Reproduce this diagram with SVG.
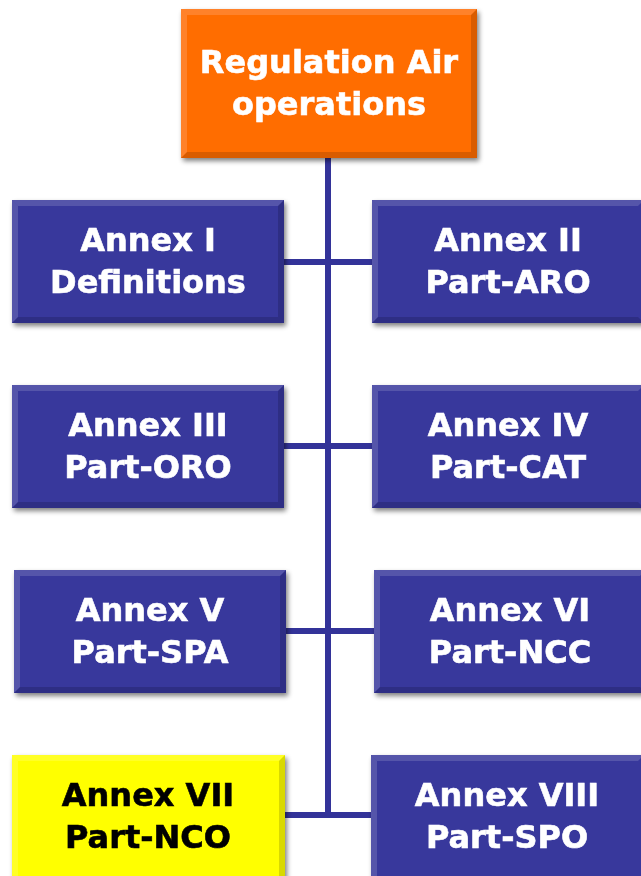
<svg xmlns="http://www.w3.org/2000/svg" width="641" height="876" viewBox="0 0 641 876">
<defs>
<filter id="sh" x="-10%" y="-10%" width="125%" height="130%">
<feGaussianBlur in="SourceAlpha" stdDeviation="2.5"/>
<feOffset dx="2" dy="3" result="b"/>
<feComponentTransfer><feFuncA type="linear" slope="0.5"/></feComponentTransfer>
<feMerge><feMergeNode/><feMergeNode in="SourceGraphic"/></feMerge>
</filter>
</defs>
<style>
.blue{fill:#37379c}
.orange{fill:#ff6d06}
.yellow{fill:#ffff00}
.lt{fill:#fff;opacity:0.15}
.dk{fill:#000;opacity:0.15}
.t{font-family:"DejaVu Sans",Verdana,sans-serif;font-weight:bold;font-size:32px;text-anchor:middle;fill:#fff;stroke:#fff;stroke-width:0.6}
.tb{fill:#000;stroke:#000}
.ln{stroke:#333399;stroke-width:6;fill:none}
</style>
<g id="connectors">
<line class="ln" x1="328" y1="158" x2="328" y2="818"/>
<line class="ln" x1="284" y1="262" x2="372" y2="262"/>
<line class="ln" x1="284" y1="446" x2="372" y2="446"/>
<line class="ln" x1="286" y1="631" x2="374" y2="631"/>
<line class="ln" x1="285" y1="815" x2="371" y2="815"/>
</g>
<g id="top" filter="url(#sh)">
<rect class="orange" x="181" y="9" width="296" height="149"/>
<polygon class="lt" points="181,9 477,9 471,15 187,15"/>
<polygon class="lt" points="181,9 187,15 187,152 181,158"/>
<polygon class="dk" points="477,9 477,158 471,152 471,15"/>
<polygon class="dk" points="181,158 477,158 471,152 187,152"/>
<text class="t" x="329" y="73">Regulation Air</text>
<text class="t" x="329" y="115">operations</text>
</g>
<g id="annex1" filter="url(#sh)">
<rect class="blue" x="12" y="200" width="272" height="123"/>
<polygon class="lt" points="12,200 284,200 278,206 18,206"/>
<polygon class="lt" points="12,200 18,206 18,317 12,323"/>
<polygon class="dk" points="284,200 284,323 278,317 278,206"/>
<polygon class="dk" points="12,323 284,323 278,317 18,317"/>
<text class="t" x="148" y="251">Annex I</text>
<text class="t" x="148" y="293">Definitions</text>
</g>
<g id="annex2" filter="url(#sh)">
<rect class="blue" x="372" y="200" width="272" height="123"/>
<polygon class="lt" points="372,200 644,200 638,206 378,206"/>
<polygon class="lt" points="372,200 378,206 378,317 372,323"/>
<polygon class="dk" points="372,323 644,323 638,317 378,317"/>
<text class="t" x="508" y="251">Annex II</text>
<text class="t" x="508" y="293">Part-ARO</text>
</g>
<g id="annex3" filter="url(#sh)">
<rect class="blue" x="12" y="385" width="272" height="123"/>
<polygon class="lt" points="12,385 284,385 278,391 18,391"/>
<polygon class="lt" points="12,385 18,391 18,502 12,508"/>
<polygon class="dk" points="284,385 284,508 278,502 278,391"/>
<polygon class="dk" points="12,508 284,508 278,502 18,502"/>
<text class="t" x="148" y="436">Annex III</text>
<text class="t" x="148" y="478">Part-ORO</text>
</g>
<g id="annex4" filter="url(#sh)">
<rect class="blue" x="372" y="385" width="272" height="123"/>
<polygon class="lt" points="372,385 644,385 638,391 378,391"/>
<polygon class="lt" points="372,385 378,391 378,502 372,508"/>
<polygon class="dk" points="372,508 644,508 638,502 378,502"/>
<text class="t" x="508" y="436">Annex IV</text>
<text class="t" x="508" y="478">Part-CAT</text>
</g>
<g id="annex5" filter="url(#sh)">
<rect class="blue" x="14" y="570" width="272" height="123"/>
<polygon class="lt" points="14,570 286,570 280,576 20,576"/>
<polygon class="lt" points="14,570 20,576 20,687 14,693"/>
<polygon class="dk" points="286,570 286,693 280,687 280,576"/>
<polygon class="dk" points="14,693 286,693 280,687 20,687"/>
<text class="t" x="150" y="621">Annex V</text>
<text class="t" x="150" y="663">Part-SPA</text>
</g>
<g id="annex6" filter="url(#sh)">
<rect class="blue" x="374" y="570" width="272" height="123"/>
<polygon class="lt" points="374,570 646,570 640,576 380,576"/>
<polygon class="lt" points="374,570 380,576 380,687 374,693"/>
<polygon class="dk" points="374,693 646,693 640,687 380,687"/>
<text class="t" x="510" y="621">Annex VI</text>
<text class="t" x="510" y="663">Part-NCC</text>
</g>
<g id="annex7" filter="url(#sh)">
<rect class="yellow" x="12" y="755" width="273" height="125"/>
<polygon class="lt" points="12,755 285,755 279,761 18,761"/>
<polygon class="lt" points="12,755 18,761 18,880 12,880"/>
<polygon class="dk" points="285,755 285,880 279,880 279,761"/>
<text class="t tb" x="148" y="806">Annex VII</text>
<text class="t tb" x="148" y="848">Part-NCO</text>
</g>
<g id="annex8" filter="url(#sh)">
<rect class="blue" x="371" y="755" width="273" height="125"/>
<polygon class="lt" points="371,755 644,755 638,761 377,761"/>
<polygon class="lt" points="371,755 377,761 377,880 371,880"/>
<text class="t" x="507" y="806">Annex VIII</text>
<text class="t" x="507" y="848">Part-SPO</text>
</g>
</svg>
